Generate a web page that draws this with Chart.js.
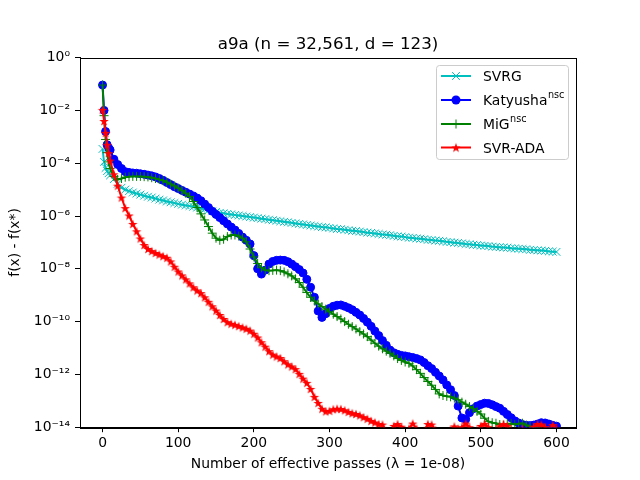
<!DOCTYPE html>
<html>
<head>
<meta charset="utf-8">
<script src="https://cdn.jsdelivr.net/npm/chart.js@4.4.1/dist/chart.umd.min.js"></script>
<style>
  html, body { margin: 0; padding: 0; background: #fff; }
</style>
</head>
<body>
<canvas id="chart" width="640" height="480"></canvas>
<script>
// effective passes (x) shared by every method
const passes = [
  0, 2, 4, 6, 8, 10,
  15, 20, 25, 30, 35, 40, 45, 50, 55, 60, 65, 70, 75, 80, 85, 90, 95, 100,
  105, 110, 115, 120, 125, 130, 135, 140, 145, 150, 155, 160, 165, 170, 175, 180, 185, 190, 195, 200,
  205, 210, 215, 220, 225, 230, 235, 240, 245, 250, 255, 260, 265, 270, 275, 280, 285, 290, 295, 300,
  305, 310, 315, 320, 325, 330, 335, 340, 345, 350, 355, 360, 365, 370, 375, 380, 385, 390, 395, 400,
  405, 410, 415, 420, 425, 430, 435, 440, 445, 450, 455, 460, 465, 470, 475, 480, 485, 490, 495, 500,
  505, 510, 515, 520, 525, 530, 535, 540, 545, 550, 555, 560, 565, 570, 575, 580, 585, 590, 595, 600
];

// log10 of f(x) - f(x*)
const svrgLog = [
  -3.46, -3.95, -4.18, -4.30, -4.38, -4.46,
  -4.60, -4.78, -4.93, -5.00, -5.06, -5.11, -5.15, -5.19, -5.23, -5.27, -5.30, -5.34, -5.38, -5.41, -5.45, -5.48, -5.51, -5.54,
  -5.57, -5.60, -5.62, -5.65, -5.68, -5.71, -5.75, -5.78, -5.82, -5.85, -5.88, -5.90, -5.92, -5.94, -5.96, -5.98, -6.00, -6.02, -6.04, -6.06,
  -6.08, -6.10, -6.12, -6.14, -6.16, -6.18, -6.20, -6.22, -6.24, -6.26, -6.28, -6.30, -6.32, -6.34, -6.36, -6.38, -6.40, -6.42, -6.43, -6.45,
  -6.47, -6.49, -6.50, -6.52, -6.54, -6.56, -6.57, -6.59, -6.61, -6.63, -6.64, -6.66, -6.68, -6.70, -6.71, -6.73, -6.75, -6.77, -6.78, -6.80,
  -6.82, -6.83, -6.85, -6.86, -6.88, -6.90, -6.91, -6.93, -6.94, -6.96, -6.98, -6.99, -7.01, -7.02, -7.04, -7.06, -7.07, -7.09, -7.10, -7.12,
  -7.13, -7.14, -7.16, -7.17, -7.18, -7.19, -7.20, -7.22, -7.23, -7.24, -7.25, -7.26, -7.28, -7.29, -7.30, -7.31, -7.32, -7.34, -7.35, -7.36
];
const katyushaLog = [
  -1.04, -2.00, -2.80, -3.30, -3.42, -3.50,
  -3.85, -4.05, -4.20, -4.32, -4.35, -4.37, -4.38, -4.40, -4.42, -4.45, -4.48, -4.52, -4.58, -4.65, -4.73, -4.81, -4.89, -4.96,
  -5.03, -5.10, -5.17, -5.24, -5.32, -5.42, -5.55, -5.68, -5.82, -5.94, -6.06, -6.18, -6.30, -6.42, -6.53, -6.66, -6.80, -6.92, -7.06, -7.50,
  -8.00, -8.20, -8.05, -7.82, -7.72, -7.68, -7.67, -7.68, -7.73, -7.82, -7.92, -8.03, -8.16, -8.40, -8.70, -9.08, -9.60, -9.84, -9.70, -9.50,
  -9.42, -9.38, -9.37, -9.42, -9.48, -9.55, -9.65, -9.75, -9.88, -10.02, -10.18, -10.36, -10.53, -10.72, -10.90, -11.08, -11.18, -11.24, -11.28, -11.30,
  -11.33, -11.36, -11.40, -11.45, -11.55, -11.67, -11.78, -11.92, -12.06, -12.21, -12.40, -12.58, -12.80, -13.20, -13.65, -13.70, -13.45, -13.30, -13.20, -13.14,
  -13.09, -13.10, -13.15, -13.22, -13.28, -13.40, -13.52, -13.64, -13.76, -13.84, -13.90, -13.93, -13.94, -13.92, -13.88, -13.83, -13.84, -13.88, -13.93, -13.96
];
const migLog = [
  -1.04, -2.20, -3.10, -3.60, -3.95, -4.20,
  -4.50, -4.62, -4.58, -4.53, -4.51, -4.50, -4.50, -4.50, -4.51, -4.52, -4.55, -4.58, -4.62, -4.66, -4.72, -4.79, -4.86, -4.94,
  -5.04, -5.14, -5.26, -5.45, -5.68, -5.92, -6.15, -6.40, -6.65, -6.84, -6.92, -6.88, -6.78, -6.72, -6.72, -6.76, -6.84, -6.98, -7.25, -7.55,
  -7.80, -7.96, -8.05, -8.07, -8.06, -8.05, -8.07, -8.12, -8.19, -8.27, -8.38, -8.52, -8.70, -8.90, -9.08, -9.22, -9.33, -9.43, -9.53, -9.63,
  -9.72, -9.81, -9.90, -10.00, -10.10, -10.19, -10.28, -10.38, -10.47, -10.57, -10.70, -10.82, -10.93, -11.03, -11.12, -11.20, -11.30, -11.40, -11.47, -11.53,
  -11.58, -11.68, -11.82, -11.96, -12.12, -12.27, -12.41, -12.57, -12.74, -12.80, -12.83, -12.85, -12.90, -12.96, -13.05, -13.13, -13.22, -13.30, -13.40, -13.50,
  -13.66, -13.78, -13.83, -13.85, -13.90, -13.92, -13.88, -13.86, -13.90, -13.87, -13.85, -13.92, -13.97, -14.05, -14.02, -14.10, -14.05, null, null, null
];
const svrAdaLog = [
  -1.98, -2.40, -2.85, -3.30, -3.62, -3.90,
  -4.42, -4.85, -5.30, -5.70, -5.98, -6.30, -6.58, -6.85, -7.10, -7.25, -7.33, -7.40, -7.46, -7.52, -7.58, -7.72, -7.92, -8.10,
  -8.25, -8.40, -8.55, -8.70, -8.82, -8.92, -9.08, -9.25, -9.42, -9.58, -9.75, -9.90, -10.02, -10.08, -10.12, -10.17, -10.22, -10.27, -10.34, -10.46,
  -10.60, -10.78, -10.95, -11.12, -11.25, -11.32, -11.38, -11.50, -11.62, -11.70, -11.80, -11.98, -12.16, -12.32, -12.55, -12.85, -13.08, -13.30, -13.40, -13.38,
  -13.32, -13.30, -13.31, -13.36, -13.42, -13.47, -13.50, -13.55, -13.62, -13.68, -13.76, -13.82, -13.88, -13.90, -14.15, -14.20, -13.95, -13.88, -13.98, -14.20,
  -14.05, -13.86, -14.05, -14.20, -14.15, -13.88, -13.90, -14.10, -14.20, -14.25, -14.20, -14.10, -13.97, -14.05, -14.00, -13.86, -14.00, -14.20, -14.10, -13.95,
  -13.87, -14.00, -14.20, -14.10, -13.96, -13.88, -13.95, -14.10, -14.20, -14.15, -14.05, -14.20, -14.10, -13.98, -13.88, -13.90, -14.00, -14.10, -13.92, -14.05
];

const xTicks = [0, 100, 200, 300, 400, 500, 600];
const yTicks = [1, 1e-2, 1e-4, 1e-6, 1e-8, 1e-10, 1e-12, 1e-14];
const yTickLabels = ['10⁰', '10⁻²', '10⁻⁴', '10⁻⁶', '10⁻⁸', '10⁻¹⁰', '10⁻¹²', '10⁻¹⁴'];
const legendLabels = ['SVRG', 'Katyusha', 'MiG', 'SVR-ADA'];
const legendSups = ['', 'nsc', 'nsc', ''];

const FONT = '"DejaVu Sans", sans-serif';
const CYAN = '#00bfbf', BLUE = '#0000ff', GREEN = '#008000', RED = '#ff0000';

function makeStar(color, r) {
  const c = document.createElement('canvas');
  const s = Math.ceil(r * 2) + 2;
  c.width = s; c.height = s;
  const g = c.getContext('2d');
  g.fillStyle = color;
  g.beginPath();
  for (let i = 0; i < 10; i++) {
    const rr = i % 2 === 0 ? r : r * 0.4;
    const a = -Math.PI / 2 + i * Math.PI / 5;
    const px = s / 2 + rr * Math.cos(a), py = s / 2 + 0.5 + rr * Math.sin(a);
    if (i === 0) g.moveTo(px, py); else g.lineTo(px, py);
  }
  g.closePath();
  g.fill();
  return c;
}
const starImg = makeStar(RED, 5);

function toPoints(vals) {
  return passes.map((p, i) => ({x: p, y: vals[i] === null ? null : Math.pow(10, vals[i])}));
}

const markers = [
  {color: CYAN, style: 'crossRot', radius: 5.5},
  {color: BLUE, style: 'circle', radius: 4},
  {color: GREEN, style: 'cross', radius: 4.5},
  {color: RED, style: starImg, radius: 5},
];

function drawMarker(ctx, m, x, y) {
  ctx.save();
  ctx.strokeStyle = m.color;
  ctx.fillStyle = m.color;
  ctx.lineWidth = 1;
  if (m.style === 'circle') {
    ctx.beginPath();
    ctx.arc(x, y, m.radius + 0.5, 0, Math.PI * 2);
    ctx.fill();
  } else if (m.style === 'cross') {
    ctx.beginPath();
    ctx.moveTo(x - m.radius, y); ctx.lineTo(x + m.radius, y);
    ctx.moveTo(x, y - m.radius); ctx.lineTo(x, y + m.radius);
    ctx.stroke();
  } else if (m.style === 'crossRot') {
    const d = m.radius * Math.SQRT1_2;
    ctx.beginPath();
    ctx.moveTo(x - d, y - d); ctx.lineTo(x + d, y + d);
    ctx.moveTo(x - d, y + d); ctx.lineTo(x + d, y - d);
    ctx.stroke();
  } else {
    ctx.drawImage(m.style, x - m.style.width / 2, y - m.style.height / 2);
  }
  ctx.restore();
}

const decorations = {
  id: 'decorations',
  afterDraw(chart) {
    const {ctx, chartArea: a} = chart;
    ctx.save();
    // full frame like matplotlib spines
    ctx.strokeStyle = '#000';
    ctx.lineWidth = 1;
    ctx.strokeRect(Math.round(a.left) + 0.5, Math.round(a.top) + 0.5,
      Math.round(a.right - a.left), Math.round(a.bottom - a.top));

    // title
    ctx.fillStyle = '#000';
    ctx.font = '16.7px ' + FONT;
    ctx.textAlign = 'center';
    ctx.textBaseline = 'alphabetic';
    ctx.fillText('a9a (n = 32,561, d = 123)', (a.left + a.right) / 2, 49);

    // legend
    const bx = 436.5, by = 65.5, bw = 132, bh = 94;
    ctx.beginPath();
    ctx.roundRect(bx, by, bw, bh, 3);
    ctx.fillStyle = 'rgba(255,255,255,0.8)';
    ctx.fill();
    ctx.strokeStyle = '#cccccc';
    ctx.stroke();
    const rowY = [76, 100, 124, 147.5];
    for (let i = 0; i < legendLabels.length; i++) {
      const y = rowY[i];
      ctx.strokeStyle = markers[i].color;
      ctx.lineWidth = 2;
      ctx.beginPath();
      ctx.moveTo(441, y); ctx.lineTo(471, y);
      ctx.stroke();
      drawMarker(ctx, markers[i], 456, y);
      ctx.fillStyle = '#000';
      ctx.textAlign = 'left';
      ctx.textBaseline = 'alphabetic';
      ctx.font = '13.9px ' + FONT;
      ctx.fillText(legendLabels[i], 483, y + 5);
      if (legendSups[i]) {
        const w = ctx.measureText(legendLabels[i]).width;
        ctx.font = '9.7px ' + FONT;
        ctx.fillText(legendSups[i], 483 + w + 0.5, y - 2.5);
      }
    }
    ctx.restore();
  }
};

function dataset(label, vals, i, order) {
  const m = markers[i];
  return {
    label: label,
    data: toPoints(vals),
    borderColor: m.color,
    backgroundColor: m.color,
    borderWidth: 2,
    pointStyle: m.style,
    pointRadius: m.radius,
    pointHoverRadius: m.radius,
    pointBorderColor: m.color,
    pointBackgroundColor: m.color,
    pointBorderWidth: 1,
    tension: 0,
    order: order,
  };
}

const ctx = document.getElementById('chart');
const myChart = new Chart(ctx, {
  type: 'line',
  data: {
    datasets: [
      dataset('SVRG', svrgLog, 0, 4),
      dataset('Katyusha', katyushaLog, 1, 3),
      dataset('MiG', migLog, 2, 2),
      dataset('SVR-ADA', svrAdaLog, 3, 1),
    ],
  },
  options: {
    responsive: false,
    animation: false,
    devicePixelRatio: 1,
    layout: {padding: {top: 57.6, right: 64, left: 0, bottom: 0}},
    plugins: {
      legend: {display: false},
      tooltip: {enabled: false},
    },
    scales: {
      x: {
        type: 'linear',
        min: -29.8,
        max: 625.8,
        afterBuildTicks: scale => { scale.ticks = xTicks.map(v => ({value: v})); },
        afterFit: scale => { scale.height = 52.8; },
        grid: {drawOnChartArea: false, drawTicks: true, tickLength: 5, color: '#000'},
        border: {display: true, color: '#000'},
        ticks: {color: '#000', font: {family: FONT, size: 13.9}, padding: 3, maxRotation: 0},
        title: {
          display: true,
          text: 'Number of effective passes (λ = 1e-08)',
          color: '#000',
          font: {family: FONT, size: 13.9},
          padding: {top: 0, bottom: 7},
        },
      },
      y: {
        type: 'logarithmic',
        min: 1e-14,
        max: 1,
        afterBuildTicks: scale => { scale.ticks = yTicks.map(v => ({value: v})); },
        afterFit: scale => { scale.width = 80; },
        grid: {drawOnChartArea: false, drawTicks: true, tickLength: 5, color: '#000'},
        border: {display: true, color: '#000'},
        ticks: {
          color: '#000',
          font: {family: FONT, size: 13.9},
          padding: 5,
          callback: (value, index) => yTickLabels[index],
        },
        title: {
          display: true,
          text: 'f(x) - f(x*)',
          color: '#000',
          font: {family: FONT, size: 13.9},
          padding: {top: 7, bottom: 0},
        },
      },
    },
  },
  plugins: [decorations],
});
</script>
</body>
</html>
